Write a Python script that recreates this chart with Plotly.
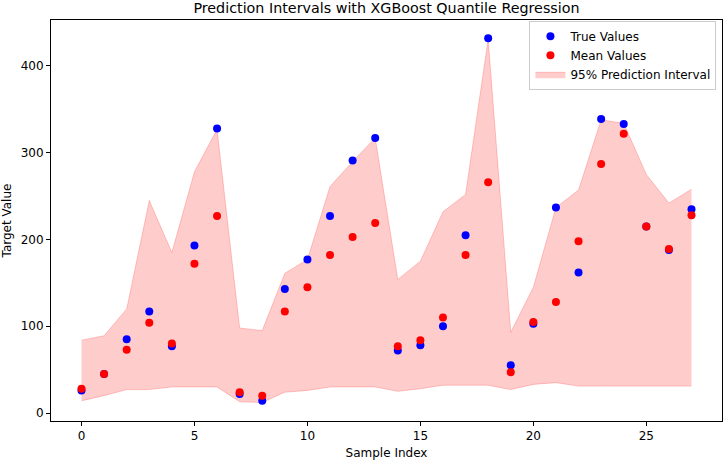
import plotly.graph_objects as go

idx = list(range(28))
true_vals = [26, 45, 85, 117, 77, 193, 328, 22, 14, 143, 177, 227, 291, 317,
             72, 78, 100, 205, 432, 55, 103, 237, 162, 339, 333, 215, 188, 235]
mean_vals = [28, 45, 73, 104, 80, 172, 227, 24, 20, 117, 145, 182, 203, 219,
             77, 84, 110, 182, 266, 47, 105, 128, 198, 287, 322, 215, 189, 228]
lower_vals = [14, 20, 27, 27, 30, 30, 30, 13, 12, 24, 26, 30, 30, 30,
              25, 28, 32, 32, 32, 27, 33, 35, 31, 31, 31, 31, 31, 31]
upper_vals = [84, 89, 120, 245, 185, 278, 327, 98, 95, 161, 177, 261, 290, 317,
              154, 175, 232, 252, 431, 93, 145, 237, 257, 338, 334, 275, 242, 258]

FONT = "DejaVu Sans"
fig = go.Figure()

fig.add_trace(go.Scatter(x=idx, y=lower_vals, mode="lines",
                         line=dict(color="rgba(255,0,0,0.2)", width=1),
                         showlegend=False, hoverinfo="skip"))
fig.add_trace(go.Scatter(x=idx, y=upper_vals, mode="lines", fill="tonexty",
                         fillcolor="rgba(255,0,0,0.2)",
                         line=dict(color="rgba(255,0,0,0.2)", width=1),
                         name="95% Prediction Interval", legendrank=3))
fig.add_trace(go.Scatter(x=idx, y=true_vals, mode="markers",
                         marker=dict(color="blue", size=8),
                         name="True Values", legendrank=1))
fig.add_trace(go.Scatter(x=idx, y=mean_vals, mode="markers",
                         marker=dict(color="red", size=8),
                         name="Mean Values", legendrank=2))

axis_common = dict(showgrid=False, zeroline=False, showline=True, mirror=True,
                   linecolor="black", linewidth=1, ticks="outside", ticklen=4,
                   tickwidth=1, tickcolor="black",
                   tickfont=dict(family=FONT, size=12, color="black"))

fig.update_layout(
    width=725, height=460,
    margin=dict(l=51, r=3, t=20, b=39),
    paper_bgcolor="white", plot_bgcolor="white",
    font=dict(family=FONT, size=12, color="black"),
    title=dict(text="Prediction Intervals with XGBoost Quantile Regression",
               x=0.5 + (51 - 3) / 2 / 725, xanchor="center", y=0.982, yanchor="middle",
               font=dict(family=FONT, size=14.3, color="black")),
    xaxis=dict(range=[-1.35, 28.35], tickvals=[0, 5, 10, 15, 20, 25],
               title=dict(text="Sample Index", font=dict(family=FONT, size=12), standoff=6),
               **axis_common),
    yaxis=dict(range=[-9.2, 453], tickvals=[0, 100, 200, 300, 400],
               title=dict(text="Target Value", font=dict(family=FONT, size=12), standoff=6),
               **axis_common),
    legend=dict(x=0.9917, y=0.998, xanchor="right", yanchor="top",
                bgcolor="rgba(255,255,255,0.8)", bordercolor="#cccccc", borderwidth=1,
                font=dict(family=FONT, size=12, color="black"),
                traceorder="normal"),
    showlegend=True,
)

fig.write_html("out.html")
